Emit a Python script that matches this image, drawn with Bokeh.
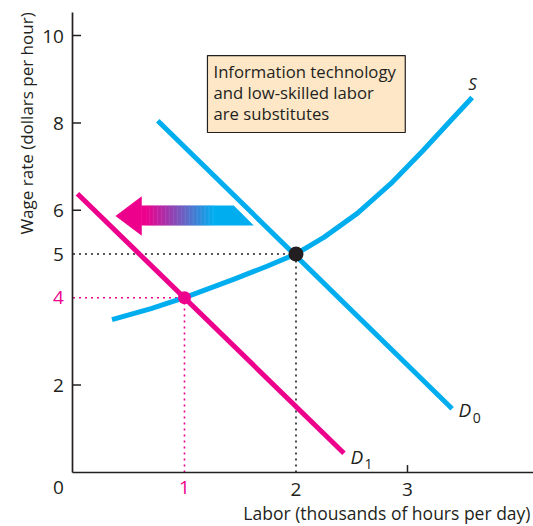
import math
from bokeh.plotting import figure
from bokeh.models import Range1d, Label, FixedTicker
from bokeh.embed import file_html
from bokeh.resources import INLINE

# ---- data ----
s_x = [0.35, 0.70, 1.00, 1.44, 1.74, 2.00, 2.25, 2.55, 2.85, 3.14, 3.39, 3.58]
s_y = [3.50, 3.75, 4.00, 4.42, 4.72, 5.00, 5.38, 5.93, 6.61, 7.37, 8.06, 8.58]
d0_x = [0.76, 3.40]
d0_y = [8.05, 1.46]
d1_x = [0.04, 2.43]
d1_y = [6.38, 0.44]
eq_x = [2, 1]          # original equilibrium, new equilibrium
eq_y = [5, 4]
x_ticks = [1, 2, 3]
y_ticks = [2, 4, 5, 6, 8, 10]
x_tick_marks = [3]
y_tick_marks = [2, 6, 8, 10]
box_lines = ["Information technology", "and low-skilled labor", "are substitutes"]

BLUE = "#00AEEF"
MAGENTA = "#EC008C"
INK = "#231F20"
FONT = "Open Sans"

X_MAX, Y_MAX = 4.13, 10.53
p = figure(width=533, height=526, x_range=Range1d(-0.650, 4.130), y_range=Range1d(-1.236, 10.801),
           output_backend="svg", toolbar_location=None,
           min_border_left=0, min_border_bottom=0, min_border_top=0, min_border_right=0)
p.grid.visible = False
p.outline_line_color = None
p.background_fill_color = "white"
p.border_fill_color = "white"

for ax in (p.xaxis, p.yaxis):
    ax.fixed_location = 0
    ax.axis_line_color = INK
    ax.axis_line_width = 1.7
    ax.major_tick_line_color = None
    ax.minor_tick_line_color = None
    ax.major_tick_in = 0
    ax.major_tick_out = 0
    ax.major_label_text_font = FONT
    ax.major_label_text_font_size = "19px"
    ax.major_label_text_color = INK
p.xaxis.bounds = (0, X_MAX)
p.yaxis.bounds = (0, Y_MAX)
p.xaxis.ticker = FixedTicker(ticks=x_ticks)
p.yaxis.ticker = FixedTicker(ticks=y_ticks)
p.xaxis.major_label_overrides = {1: " "}
p.yaxis.major_label_overrides = {4: " "}
p.xaxis.major_label_standoff = 4
p.yaxis.major_label_standoff = 9

# tick marks pointing inward
p.segment(x0=[0] * len(y_tick_marks), y0=y_tick_marks, x1=[0.072] * len(y_tick_marks), y1=y_tick_marks,
          line_color=INK, line_width=1.5)
p.segment(x0=x_tick_marks, y0=[0] * len(x_tick_marks), x1=x_tick_marks, y1=[0.17] * len(x_tick_marks),
          line_color=INK, line_width=1.5)

# dotted guide lines
guide_cols = [INK, MAGENTA]
for gx, gy, gc in zip(eq_x, eq_y, guide_cols):
    p.line([0, gx], [gy, gy], line_color=gc, line_width=1.6, line_dash="2 4")
    p.line([gx, gx], [0, gy], line_color=gc, line_width=1.6, line_dash="2 4")

# arrow (shift of demand) with colour gradient
tip_x, head_x, tail_x0, tail_x1 = 0.381, 0.612, 1.442, 1.622
mid_y, head_top, head_bot, sh_top, sh_bot = 5.87, 6.32, 5.42, 6.11, 5.65
g0, g1 = 0.66, 1.26
p.patch([tip_x, head_x + 0.005, head_x + 0.005], [mid_y, head_top, head_bot],
        fill_color=MAGENTA, line_color=None)
c0 = (236, 0, 140)
c1 = (0, 174, 239)
n = 50
p.quad(left=[head_x], right=[g0 + 0.003], top=[sh_top], bottom=[sh_bot], fill_color=MAGENTA, line_color=None)
for i in range(n):
    t = (i + 0.5) / n
    col = "#%02x%02x%02x" % tuple(int(round(a + (b - a) * t)) for a, b in zip(c0, c1))
    l = g0 + (g1 - g0) * i / n
    r = g0 + (g1 - g0) * (i + 1) / n
    p.quad(left=[l], right=[r + 0.004], top=[sh_top], bottom=[sh_bot], fill_color=col, line_color=None)
p.patch([g1, tail_x0, tail_x1, g1], [sh_top, sh_top, sh_bot, sh_bot], fill_color=BLUE, line_color=None)

# curves
p.line(d1_x, d1_y, line_color=MAGENTA, line_width=5, line_cap="butt")
p.line(d0_x, d0_y, line_color=BLUE, line_width=5, line_cap="butt")
p.line(s_x, s_y, line_color=BLUE, line_width=5, line_cap="butt", line_join="round")

# equilibrium points
p.scatter([eq_x[0]], [eq_y[0]], size=15, fill_color=INK, line_color=None)
p.scatter([eq_x[1]], [eq_y[1]], size=13, fill_color=MAGENTA, line_color=None)

# text box
p.quad(left=[1.206], right=[2.98], bottom=[7.78], top=[9.54], fill_color="#FDE7C7",
       line_color=INK, line_width=1.2)
for i, t in enumerate(box_lines):
    p.add_layout(Label(x=1.26, y=9.17 - 0.48 * i, text=t, text_font=FONT, text_font_size="16.7px",
                       text_color=INK, text_baseline="middle", text_align="left"))

def lab(x, y, t, size="16px", style="normal", color=INK, align="left", baseline="middle", angle=0.0,
        xo=0, yo=0):
    p.add_layout(Label(x=x, y=y, text=t, text_font=FONT, text_font_size=size, text_font_style=style,
                       text_color=color, text_align=align, text_baseline=baseline, angle=angle,
                       x_offset=xo, y_offset=yo))

# curve labels
lab(3.583, 8.91, "S", size="17px", style="italic", align="center")
lab(3.457, 1.42, "D", size="19px", style="italic")
lab(3.585, 1.25, "0", size="14px")
lab(2.489, 0.355, "D", size="19px", style="italic")
lab(2.614, 0.19, "1", size="14px")

# coloured / special tick labels
lab(eq_x[1], 0, str(eq_x[1]), size="19px", color=MAGENTA, align="center", baseline="top", yo=-9)
lab(0, eq_y[1], str(eq_y[1]), size="19px", color=MAGENTA, align="right", baseline="middle", xo=-9)
lab(0, 0, "0", size="19px", align="right", baseline="top", xo=-9, yo=-9)

# axis titles
lab(-0.417, Y_MAX, "Wage rate (dollars per hour)", size="17px", align="right", baseline="middle",
    angle=math.pi / 2)
lab(4.103, -0.93, "Labor (thousands of hours per day)", size="17.5px", align="right", baseline="middle")

open("out.html", "w").write(file_html(p, INLINE))
